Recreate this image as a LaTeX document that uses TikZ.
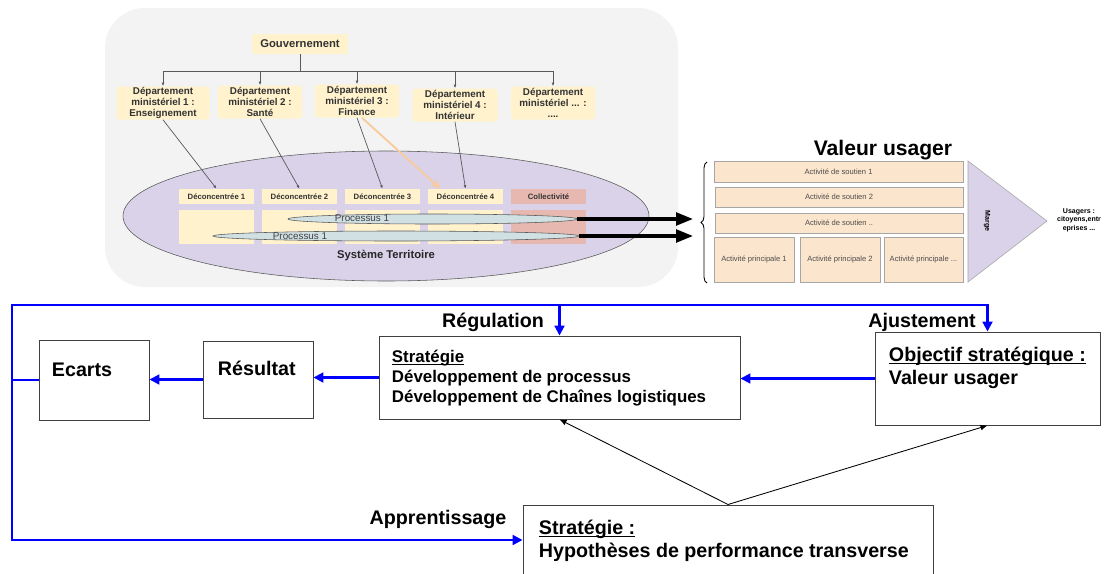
\documentclass[tikz,border=0pt]{standalone}
\usepackage{fontspec}
\setmainfont{Liberation Sans}
\usetikzlibrary{shapes.geometric,arrows.meta,positioning,decorations.pathreplacing,calc}
\definecolor{panelgray}{RGB}{243,243,243}
\definecolor{deptyellow}{RGB}{255,242,204}
\definecolor{collsalmon}{RGB}{230,184,175}
\definecolor{terrpurple}{RGB}{217,210,233}
\definecolor{procteal}{RGB}{208,224,227}
\definecolor{actpeach}{RGB}{252,229,205}
\definecolor{peacharrow}{RGB}{249,203,156}
\definecolor{loopblue}{RGB}{0,0,255}
\definecolor{linegray}{RGB}{89,89,89}
\newlength\upx
\setlength\upx{0.025cm}
\newsavebox\ulsave
\newcommand\ulbox[1]{\sbox\ulsave{#1}\rlap{\rule[-1.7pt]{\wd\ulsave}{0.7pt}}\usebox\ulsave}

\begin{document}
\begin{tikzpicture}[x=0.025cm, y=-0.025cm,
    panel/.style={fill=panelgray, rounded corners=1cm, inner sep=0pt},
    govbox/.style={fill=deptyellow, rounded corners=1.5pt, inner sep=0pt, text=black!80, font=\bfseries\fontsize{8}{9}\selectfont},
    deptbox/.style={fill=deptyellow, rounded corners=2pt, inner sep=0pt, align=center, text=black!80, font=\bfseries\fontsize{7}{7.6}\selectfont},
    decbox/.style={fill=deptyellow, inner sep=0pt, minimum width=75\upx, minimum height=15\upx, text=black!80, font=\bfseries\fontsize{5.5}{6}\selectfont},
    cellbox/.style={fill=deptyellow, inner sep=0pt, minimum width=75\upx, minimum height=34\upx},
    territory/.style={ellipse, draw=linegray, fill=terrpurple, inner sep=0pt, minimum width=526\upx, minimum height=130\upx},
    lens/.style={ellipse, draw=linegray, fill=procteal, inner sep=0pt, minimum height=10\upx, line width=0.4pt},
    smalltext/.style={font=\fontsize{7}{8}\selectfont, text=black!75},
    treeline/.style={draw=linegray, line width=0.5pt, -{Latex[length=2.5pt,width=2pt]}},
    actbox/.style={fill=actpeach, draw=black!35, inner sep=0pt, text=black!70, font=\fontsize{5.4}{6}\selectfont},
    bigarrow/.style={line width=2.2pt, -{Triangle[length=12pt,width=9pt]}},
    plainbox/.style={draw=black!75, line width=0.7pt, inner sep=0pt},
    feedback/.style={draw=loopblue, line width=1.5pt, -{Triangle[length=7pt,width=7pt]}},
    thinarrow/.style={line width=0.6pt, -{Latex[length=5pt,width=4pt]}},
    looplabel/.style={font=\bfseries\fontsize{14}{16}\selectfont}]

    \fill[white] (0,0) rectangle (1104,573);
    \useasboundingbox (0,0) rectangle (1104,573);

    % Territory panel
    \node[panel, minimum width=573\upx, minimum height=279\upx] (panel) at (391.5,147.5) {};
    \node[govbox, minimum width=96\upx, minimum height=20\upx] (gouv) at (300,44) {Gouvernement};
    \node[deptbox, minimum width=93\upx, minimum height=33\upx] (d1) at (163,103) {Département\\ministériel 1 :\\Enseignement};
    \node[deptbox, minimum width=84\upx, minimum height=33\upx] (d2) at (260,102) {Département\\ministériel 2 :\\Santé};
    \node[deptbox, minimum width=84\upx, minimum height=33\upx] (d3) at (357,101) {Département\\ministériel 3 :\\Finance};
    \node[deptbox, minimum width=85\upx, minimum height=33\upx] (d4) at (455,105) {Département\\ministériel 4 :\\Intérieur};
    \node[deptbox, minimum width=84\upx, minimum height=33\upx] (d5) at (553,103) {Département\\ministériel ... :\\....};

    \node[territory] (terr) at (386,216) {};
    \node[decbox] (dc1) at (216.5,196.5) {Déconcentrée 1};
    \node[decbox] (dc2) at (299.5,196.5) {Déconcentrée 2};
    \node[decbox] (dc3) at (382.5,196.5) {Déconcentrée 3};
    \node[decbox] (dc4) at (465.5,196.5) {Déconcentrée 4};
    \node[decbox, fill=collsalmon] (coll) at (548.5,196.5) {Collectivité};
    \node[cellbox] (c1) at (216.5,227) {};
    \node[cellbox] (c2) at (299.5,227) {};
    \node[cellbox] (c3) at (382.5,227) {};
    \node[cellbox] (c4) at (465.5,227) {};
    \node[cellbox, fill=collsalmon] (c5) at (548.5,227) {};
    \node[lens, minimum width=289\upx] (procA) at (432.5,219) {};
    \node[lens, minimum width=366\upx] (procB) at (396,236) {};
    \node[smalltext] (procAtxt) at (362,218) {Processus 1};
    \node[smalltext] (procBtxt) at (300,236) {Processus 1};
    \node[font=\bfseries\fontsize{8}{9}\selectfont, text=black!85] (terrtxt) at (386,256) {Système Territoire};

    % Tree
    \coordinate (bus) at (300,71);
    \draw[linegray, line width=0.7pt] (gouv.south) -- (bus);
    \draw[linegray, line width=0.5pt] (d1.north |- bus) -- (d5.north |- bus);
    \foreach \d in {d1,d2,d3,d4,d5}
        \draw[treeline] (\d.north |- bus) -- (\d.north);
    \draw[treeline] (d1.south) -- (dc1.north);
    \draw[treeline] (d2.south) -- (dc2.north);
    \draw[treeline] (d3.south) -- (dc3.north);
    \draw[treeline] (d4.south) -- (dc4.north);
    \draw[peacharrow, line width=1.3pt, -{Stealth[length=7pt,width=6pt]}] ([xshift=5\upx]d3.south) -- ([xshift=-25\upx]dc4.north);

    % Value chain
    \node[font=\bfseries\fontsize{15}{17}\selectfont] (valtitle) at (883,150) {Valeur usager};
    \node[actbox, minimum width=249\upx, minimum height=21\upx] (s1) at (838.5,171.5) {Activité de soutien 1};
    \node[actbox, minimum width=248\upx, minimum height=20\upx] (s2) at (839,197) {Activité de soutien 2};
    \node[actbox, minimum width=248\upx, minimum height=20\upx] (s3) at (839,223) {Activité de soutien ..};
    \node[actbox, minimum width=80\upx, minimum height=45\upx] (p1) at (754,259.5) {Activité principale 1};
    \node[actbox, minimum width=80\upx, minimum height=45\upx] (p2) at (840,259.5) {Activité principale 2};
    \node[actbox, minimum width=79\upx, minimum height=45\upx] (p3) at (923.5,259.5) {Activité principale ...};
    \draw[draw=black!35, fill=terrpurple] (968,161) -- (1047,221) -- (968,282) -- cycle;
    \node[rotate=-90, font=\bfseries\fontsize{5}{6}\selectfont] (marge) at (987,221) {Marge};
    \node[align=center, font=\bfseries\fontsize{5}{6}\selectfont] (usagers) at (1079,220) {Usagers :\\citoyens,entr\\eprises ...};
    \draw[line width=0.6pt, decorate, decoration={brace, amplitude=6\upx}] (707,283) -- (707,162);

    % Processes into the chain
    \coordinate (inA) at (693,219);
    \coordinate (inB) at (693,236);
    \draw[bigarrow] (procA.east) -- (inA);
    \draw[bigarrow] (procB.east) -- (inB);

    % Strategy loop
    \node[plainbox, minimum width=110\upx, minimum height=80\upx] (ecarts) at (94,380) {};
    \node[plainbox, minimum width=110\upx, minimum height=77\upx] (resultat) at (258,379.5) {};
    \node[plainbox, minimum width=361\upx, minimum height=83\upx] (strat) at (559.5,377.5) {};
    \node[plainbox, minimum width=225\upx, minimum height=93\upx] (objectif) at (987.5,378.5) {};
    \node[plainbox, minimum width=410\upx, minimum height=75\upx] (hypo) at (728,542.5) {};

    \node[looplabel, anchor=west] (ecartstxt) at (47,370) {Ecarts};
    \node[looplabel, anchor=west] (resultattxt) at (213,368) {Résultat};
    \node[anchor=west, align=left, font=\bfseries\fontsize{12}{14.2}\selectfont] (strattxt) at (387,378)
        {\ulbox{Stratégie}\\Développement de processus\\Développement de Chaînes logistiques};
    \node[looplabel, anchor=west, align=left] (objectiftxt) at (884,368) {\ulbox{Objectif stratégique :}\\Valeur usager};
    \node[looplabel, anchor=west, align=left] (hypotxt) at (534,541) {\ulbox{Stratégie :}\\Hypothèses de performance transverse};
    \node[looplabel] (regul) at (493,322) {Régulation};
    \node[looplabel] (ajust) at (922,322) {Ajustement};
    \node[looplabel] (appr) at (438,519) {Apprentissage};

    \coordinate (looptop) at (12,305);
    \coordinate (loopbot) at (12,540);
    \draw[feedback] (strat.west) -- (strat.west -| resultat.east);
    \draw[feedback] (resultat.west) -- (resultat.west -| ecarts.east);
    \draw[feedback] (objectif.west) -- (objectif.west -| strat.east);
    \draw[feedback] (ecarts.west) -| (looptop) -| (objectif.north);
    \draw[feedback] (looptop -| strat.north) -- (strat.north);
    \draw[feedback] (ecarts.west) -| (loopbot) -- (loopbot -| hypo.west);
    \draw[thinarrow] (hypo.north) -- (strat.south);
    \draw[thinarrow] (hypo.north) -- (objectif.south);
\end{tikzpicture}
\end{document}
